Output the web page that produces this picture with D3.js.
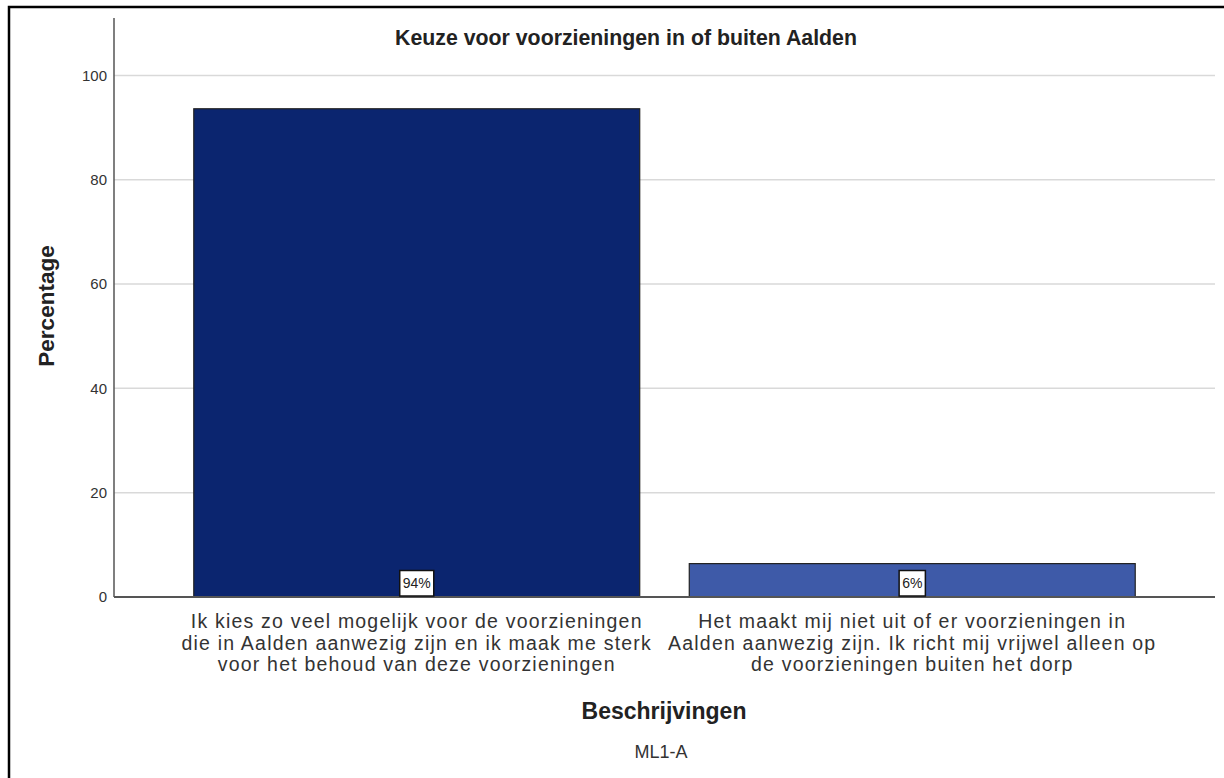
<!DOCTYPE html>
<html>
<head>
<meta charset="utf-8">
<script src="https://cdn.jsdelivr.net/npm/d3@7/dist/d3.min.js"></script>
<style>
  html, body { margin: 0; padding: 0; background: #fff; }
  svg { display: block; font-family: "Liberation Sans", Arial, sans-serif; }
</style>
</head>
<body>
<svg id="chart" width="1224" height="778"></svg>
<script>
// ---- data ----
const categories = ["cat1", "cat2"];
const categoryLines = [
  ["Ik kies zo veel mogelijk voor de voorzieningen",
   "die in Aalden aanwezig zijn en ik maak me sterk",
   "voor het behoud van deze voorzieningen"],
  ["Het maakt mij niet uit of er voorzieningen in",
   "Aalden aanwezig zijn. Ik richt mij vrijwel alleen op",
   "de voorzieningen buiten het dorp"]
];
const values = [93.6, 6.4];
const valueLabels = ["94%", "6%"];
const barColors = ["#0b256f", "#3e5aa8"];
const yTicks = [0, 20, 40, 60, 80, 100];
const titleText = "Keuze voor voorzieningen in of buiten Aalden";
const yAxisTitle = "Percentage";
const xAxisTitle = "Beschrijvingen";
const footnote = "ML1-A";

// ---- layout ----
const svg = d3.select("#chart");
const pLeft = 114, pRight = 1215, pTop = 18, pBottom = 597;

const x = d3.scaleBand().domain(categories).range([pLeft, pRight])
  .paddingInner(0.1).paddingOuter(0.161);
const y = d3.scaleLinear().domain([0, 111]).range([pBottom, pTop]);

// frame
svg.append("rect").attr("x", 9).attr("y", 7).attr("width", 1240).attr("height", 800)
  .attr("fill", "none").attr("stroke", "#000").attr("stroke-width", 2.5);

// gridlines
svg.append("g").selectAll("line").data(yTicks.filter(d => d > 0)).join("line")
  .attr("x1", pLeft).attr("x2", pRight)
  .attr("y1", d => y(d)).attr("y2", d => y(d))
  .attr("stroke", "#d9d9d9").attr("stroke-width", 1.5);

// y axis
const yAxis = d3.axisLeft(y).tickValues(yTicks).tickSize(0).tickPadding(7);
const gy = svg.append("g").attr("transform", `translate(${pLeft},0)`).call(yAxis);
gy.select(".domain").remove();
gy.selectAll("text").attr("font-size", 15).attr("fill", "#333")
  .attr("font-family", "Liberation Sans, Arial, sans-serif");
svg.append("line").attr("x1", pLeft).attr("x2", pLeft).attr("y1", pTop).attr("y2", pBottom)
  .attr("stroke", "#555").attr("stroke-width", 1.5);

// bars
svg.append("g").selectAll("rect").data(categories).join("rect")
  .attr("x", d => x(d)).attr("width", x.bandwidth())
  .attr("y", (d, i) => y(values[i])).attr("height", (d, i) => y(0) - y(values[i]))
  .attr("fill", (d, i) => barColors[i])
  .attr("stroke", "#222").attr("stroke-width", 1.2);

// x axis line
svg.append("line").attr("x1", pLeft).attr("x2", pRight).attr("y1", pBottom).attr("y2", pBottom)
  .attr("stroke", "#555").attr("stroke-width", 1.8);

// value labels in boxes
const lab = svg.append("g").selectAll("g").data(categories).join("g")
  .attr("transform", d => `translate(${x(d) + x.bandwidth() / 2},${pBottom - 14})`);
lab.append("text").text((d, i) => valueLabels[i])
  .attr("text-anchor", "middle").attr("dy", "0.35em")
  .attr("font-size", 14).attr("fill", "#222")
  .each(function () {
    const b = this.getBBox();
    d3.select(this.parentNode).insert("rect", "text")
      .attr("x", b.x - 3).attr("y", -12.5).attr("width", b.width + 6).attr("height", 25.5)
      .attr("fill", "#fff").attr("stroke", "#111").attr("stroke-width", 1.5);
  });

// category labels
const cl = svg.append("g").selectAll("text").data(categories).join("text")
  .attr("text-anchor", "middle").attr("font-size", 19.5)
  .attr("letter-spacing", 1.2).attr("fill", "#333");
cl.each(function (d, i) {
  d3.select(this).selectAll("tspan").data(categoryLines[i]).join("tspan")
    .attr("x", x(d) + x.bandwidth() / 2)
    .attr("y", (t, j) => 628 + j * 21.7)
    .text(t => t);
});

// title
svg.append("text").attr("x", 626).attr("y", 45).attr("text-anchor", "middle")
  .attr("font-size", 21.3).attr("font-weight", "bold").attr("fill", "#222").text(titleText);

// y axis title
svg.append("text").attr("transform", "translate(54,306) rotate(-90)")
  .attr("text-anchor", "middle").attr("font-size", 22.5).attr("font-weight", "bold")
  .attr("fill", "#222").text(yAxisTitle);

// x axis title
svg.append("text").attr("x", 664).attr("y", 719).attr("text-anchor", "middle")
  .attr("font-size", 23).attr("font-weight", "bold").attr("fill", "#222").text(xAxisTitle);

// footnote
svg.append("text").attr("x", 661).attr("y", 758).attr("text-anchor", "middle")
  .attr("font-size", 18).attr("fill", "#333").text(footnote);
</script>
</body>
</html>
